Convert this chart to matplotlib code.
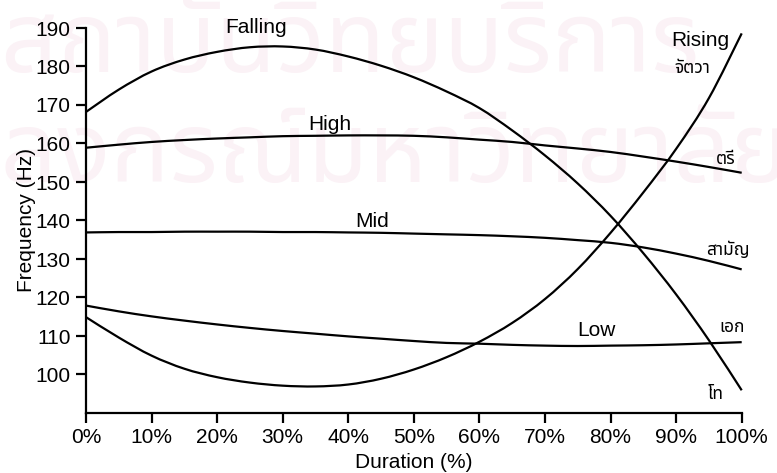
import matplotlib
matplotlib.use("Agg")
import matplotlib.pyplot as plt
from matplotlib import font_manager
from matplotlib.ft2font import FT2Font
from matplotlib.path import Path
from matplotlib.patches import PathPatch

# Fundamental frequency contours of the five Thai tones, sampled every 5 % of duration
duration = [0, 5, 10, 15, 20, 25, 30, 35, 40, 45, 50,
            55, 60, 65, 70, 75, 80, 85, 90, 95, 100]

falling = [168.2, 174.0, 178.7, 181.8, 183.8, 185.0, 185.2, 184.4, 182.6, 180.2, 177.2,
           173.5, 169.2, 163.4, 156.9, 149.6, 141.2, 131.5, 120.8, 108.9, 95.9]
high = [158.9, 159.7, 160.4, 160.9, 161.3, 161.6, 161.9, 162.0, 162.1, 162.1, 162.0,
        161.6, 161.0, 160.4, 159.5, 158.7, 157.8, 156.6, 155.3, 153.9, 152.4]
mid = [136.9, 137.0, 137.0, 137.1, 137.1, 137.1, 137.0, 137.0, 136.9, 136.8, 136.6,
       136.4, 136.2, 135.9, 135.5, 134.9, 134.2, 133.0, 131.4, 129.5, 127.3]
low = [117.9, 116.4, 115.1, 114.0, 113.0, 112.1, 111.3, 110.6, 109.9, 109.3, 108.7,
       108.2, 108.0, 107.7, 107.5, 107.4, 107.5, 107.6, 107.8, 108.1, 108.4]
rising = [114.9, 109.6, 104.9, 101.5, 99.3, 97.9, 97.1, 96.9, 97.4, 98.9, 101.3,
          104.5, 108.5, 113.4, 119.6, 127.4, 136.8, 147.3, 158.6, 171.8, 188.6]

x_ticks = [0, 10, 20, 30, 40, 50, 60, 70, 80, 90, 100]
x_tick_labels = [f"{t}%" for t in x_ticks]
y_ticks = [100, 110, 120, 130, 140, 150, 160, 170, 180, 190]

# English tone names and their Thai names, with label anchor points (duration %, Hz)
eng_labels = ["Falling", "High", "Mid", "Low", "Rising"]
eng_pos = [(26.0, 188.6), (37.2, 163.5), (43.6, 138.3), (77.8, 109.9), (93.7, 185.3)]
thai_labels = ["จัตวา", "ตรี", "สามัญ", "เอก", "โท"]
thai_pos = [(92.5, 178.2), (97.6, 154.8), (97.9, 131.0), (98.6, 111.0), (96.0, 93.7)]

watermark_lines = ["สถาบันวิทยบริการ", "จุฬาลงกรณ์มหาวิทยาลัย"]


def find_thai_family():
    preferred = ["Noto Sans Thai", "Noto Sans Thai UI", "Loma", "Garuda", "Waree"]
    found = []
    for f in font_manager.fontManager.ttflist:
        try:
            if 0x0E08 in FT2Font(f.fname).get_charmap():
                found.append(f.name)
        except Exception:
            continue
    for name in preferred:
        if name in found:
            return name
    return found[0] if found else None


def smooth_path(xs, ys):
    """Cubic Bezier path through the samples (Catmull-Rom tangents)."""
    n = len(xs)
    verts = [(xs[0], ys[0])]
    codes = [Path.MOVETO]
    for i in range(n - 1):
        i0, i3 = max(i - 1, 0), min(i + 2, n - 1)
        c1 = (xs[i] + (xs[i + 1] - xs[i0]) / 6, ys[i] + (ys[i + 1] - ys[i0]) / 6)
        c2 = (xs[i + 1] - (xs[i3] - xs[i]) / 6, ys[i + 1] - (ys[i3] - ys[i]) / 6)
        verts += [c1, c2, (xs[i + 1], ys[i + 1])]
        codes += [Path.CURVE4] * 3
    return Path(verts, codes)


thai_family = find_thai_family()
base = "Liberation Sans"
thai_fonts = [thai_family, base, "DejaVu Sans"] if thai_family else [base, "DejaVu Sans"]

plt.rcParams["font.family"] = [base, "DejaVu Sans"]

W, H = 777, 473
fig = plt.figure(figsize=(W / 100, H / 100), dpi=100)
fig.patch.set_facecolor("white")

# faint watermark behind the plot
wm_color = "#fbf2f6"
renderer = fig.canvas.get_renderer()
wm1 = fig.text(0.0, 1 - 72 / H, watermark_lines[0], family=thai_fonts, fontsize=80,
               color=wm_color, ha="left", va="baseline", zorder=0)
w1 = wm1.get_window_extent(renderer).width
wm_size = 80 * 700 / w1
wm1.set_fontsize(wm_size)
wm2 = fig.text(1 + 12 / W, 1 - 182 / H, watermark_lines[1], family=thai_fonts,
               fontsize=wm_size, color=wm_color, ha="right", va="baseline", zorder=0)

ax = fig.add_axes([86 / W, 1 - 413 / H, (741.7 - 86) / W, (413 - 28) / H])
ax.set_facecolor("none")
ax.set_zorder(1)

for series in [falling, high, mid, low, rising]:
    ax.add_patch(PathPatch(smooth_path(duration, series), fill=False, edgecolor="black",
                           lw=1.6, capstyle="butt", clip_on=False))

ax.set_xlim(0, 100)
ax.set_ylim(90, 190)
ax.set_xticks(x_ticks)
ax.set_xticklabels(x_tick_labels)
ax.set_yticks(y_ticks)

for side in ["top", "right"]:
    ax.spines[side].set_visible(False)
for side in ["left", "bottom"]:
    ax.spines[side].set_linewidth(1.6)
ax.tick_params(direction="out", length=7, width=1.6, labelsize=15, color="black", pad=4)

ax.set_xlabel("Duration (%)", fontsize=15, labelpad=4)
ax.set_ylabel("Frequency (Hz)", fontsize=15, labelpad=0)

for text, (x, y) in zip(eng_labels, eng_pos):
    ax.text(x, y, text, fontsize=15, ha="center", va="baseline", clip_on=False)
for text, (x, y) in zip(thai_labels, thai_pos):
    ax.text(x, y, text, family=thai_fonts, fontsize=12.5, ha="center", va="baseline",
            clip_on=False)

fig.savefig("out.png", dpi=100)
